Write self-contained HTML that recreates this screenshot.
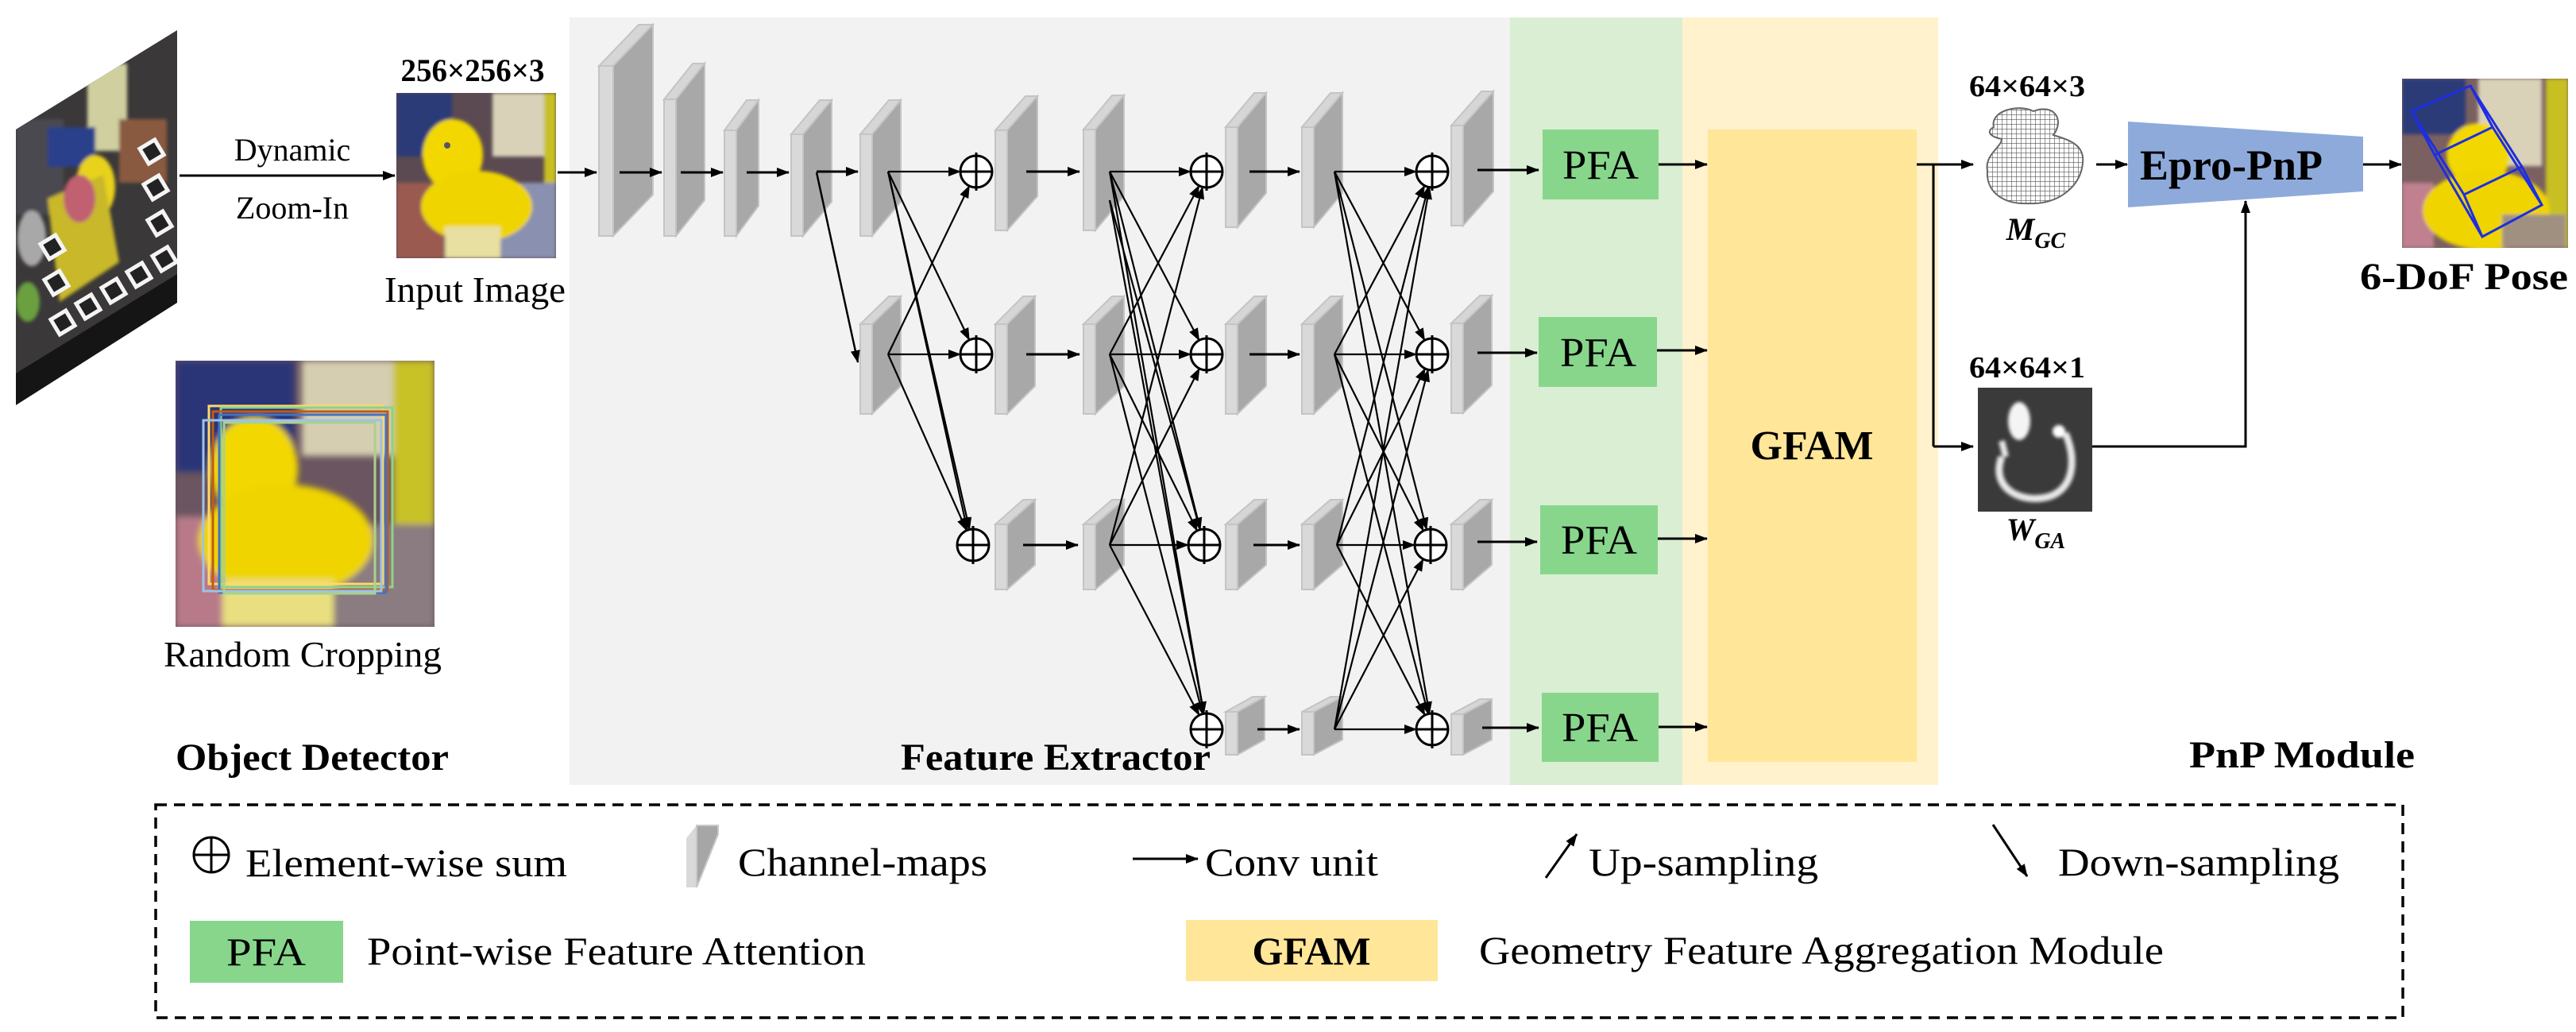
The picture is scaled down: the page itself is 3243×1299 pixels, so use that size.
<!DOCTYPE html>
<html><head><meta charset="utf-8">
<style>
html,body{margin:0;padding:0;background:#fff;}
svg{display:block;font-family:"Liberation Serif","DejaVu Serif",serif;}
svg text{font-family:"Liberation Serif","DejaVu Serif",serif !important;fill:#000;}
.b{font-weight:bold;}
</style></head>
<body>
<svg id="s" width="3243" height="1299" viewBox="0 0 3243 1299" xmlns="http://www.w3.org/2000/svg" font-family="Liberation Serif, DejaVu Serif, serif">
<defs>
<marker id="ah" markerUnits="userSpaceOnUse" markerWidth="16" markerHeight="12" refX="15" refY="6" orient="auto">
<path d="M0,0 L16,6 L0,12 z" fill="#000"/></marker>
<clipPath id="cpL"><polygon points="20,163 223,38 223,381 20,510"/></clipPath>
<clipPath id="cpIn"><rect x="499" y="117" width="201" height="208"/></clipPath>
<clipPath id="cpRc"><rect x="221" y="454" width="326" height="335"/></clipPath>
<clipPath id="cpP"><rect x="3024" y="99" width="209" height="213"/></clipPath>
<pattern id="mesh" width="6" height="6" patternUnits="userSpaceOnUse">
<rect width="6" height="6" fill="#fff"/><path d="M0,0 L6,0 M0,0 L0,6" stroke="#555" stroke-width="1.2"/></pattern>
<filter id="bl"><feGaussianBlur stdDeviation="4"/></filter>
<filter id="bl2"><feGaussianBlur stdDeviation="2"/></filter>
</defs>

<rect x="717" y="22" width="1184" height="966" fill="#f2f2f2"/>
<rect x="1901" y="22" width="217" height="966" fill="#d9eed2"/>
<rect x="2118" y="22" width="322" height="966" fill="#fff2cc"/>
<rect x="2150" y="163" width="263" height="796" fill="#ffe699"/>
<text x="2281" y="578" font-size="52" class="b" text-anchor="middle">GFAM</text>

<g clip-path="url(#cpL)">
<rect x="0" y="30" width="230" height="490" fill="#3a3838"/>
<g filter="url(#bl2)">
<rect x="20" y="150" width="60" height="120" fill="#4a4a50"/>
<rect x="110" y="80" width="50" height="110" fill="#cfcfa0"/>
<rect x="60" y="160" width="60" height="50" fill="#2a3f8a"/>
<ellipse cx="120" cy="235" rx="25" ry="40" fill="#e9d21a"/>
<polygon points="60,250 130,220 150,330 75,380" fill="#c9b82a"/>
<ellipse cx="100" cy="250" rx="20" ry="30" fill="#c06070"/>
<rect x="150" y="150" width="60" height="80" fill="#8a5a40"/>
<ellipse cx="40" cy="300" rx="18" ry="35" fill="#a8a8a8"/>
<ellipse cx="35" cy="380" rx="15" ry="25" fill="#6aa040"/>
</g>
<g stroke="#f4f4f4" stroke-width="5" fill="#222">
<rect x="68" y="395" width="22" height="22" transform="rotate(-31 79 406)"/>
<rect x="100" y="375" width="22" height="22" transform="rotate(-31 111 386)"/>
<rect x="132" y="355" width="22" height="22" transform="rotate(-31 143 366)"/>
<rect x="164" y="335" width="22" height="22" transform="rotate(-31 175 346)"/>
<rect x="196" y="315" width="22" height="22" transform="rotate(-31 207 326)"/>
<rect x="190" y="270" width="22" height="22" transform="rotate(-31 201 281)"/>
<rect x="185" y="225" width="22" height="22" transform="rotate(-31 196 236)"/>
<rect x="180" y="180" width="22" height="22" transform="rotate(-31 191 191)"/>
<rect x="60" y="345" width="22" height="22" transform="rotate(-31 71 356)"/>
<rect x="55" y="300" width="22" height="22" transform="rotate(-31 66 311)"/>
</g>
<polygon points="20,470 223,345 223,381 20,510" fill="#151515"/>
</g>

<line x1="226" y1="221" x2="497" y2="221" stroke="#000" stroke-width="3" marker-end="url(#ah)"/>
<text x="368" y="202" font-size="40" text-anchor="middle">Dynamic</text>
<text x="368" y="275" font-size="40" text-anchor="middle">Zoom-In</text>

<text x="595" y="102" font-size="40" class="b" text-anchor="middle" textLength="181" lengthAdjust="spacingAndGlyphs">256×256×3</text>
<g clip-path="url(#cpIn)">
<rect x="499" y="117" width="201" height="208" fill="#5b4a52"/>
<g filter="url(#bl2)">
<rect x="499" y="117" width="70" height="80" fill="#2c3a78"/>
<rect x="620" y="117" width="70" height="80" fill="#d9d2b8"/>
<rect x="685" y="117" width="15" height="208" fill="#c8c020"/>
<rect x="600" y="230" width="100" height="95" fill="#8a90b0"/>
<rect x="499" y="230" width="60" height="95" fill="#9a5a50"/>
<ellipse cx="570" cy="195" rx="38" ry="45" fill="#f2d800"/>
<ellipse cx="600" cy="260" rx="70" ry="45" fill="#efd400"/>
<rect x="560" y="285" width="70" height="40" fill="#e8e0a0"/>
</g>
<circle cx="563" cy="183" r="4" fill="#556"/>
</g>
<text x="598" y="380" font-size="46" text-anchor="middle" textLength="228" lengthAdjust="spacingAndGlyphs">Input Image</text>

<g clip-path="url(#cpRc)">
<rect x="221" y="454" width="326" height="335" fill="#6b5560"/>
<g filter="url(#bl)">
<rect x="221" y="454" width="150" height="140" fill="#2a3578"/>
<rect x="380" y="454" width="120" height="120" fill="#d6ceb0"/>
<rect x="495" y="454" width="52" height="335" fill="#c8c228"/>
<rect x="221" y="650" width="60" height="139" fill="#b87a88"/>
<rect x="420" y="660" width="127" height="129" fill="#8a7c80"/>
<ellipse cx="320" cy="590" rx="55" ry="65" fill="#f2d800"/>
<ellipse cx="360" cy="680" rx="110" ry="70" fill="#efd400"/>
<rect x="280" y="730" width="140" height="59" fill="#e9df80"/>
</g>
<g fill="none" stroke-width="3">
<rect x="263" y="511" width="219" height="224" stroke="#ffd966"/>
<rect x="278" y="513" width="216" height="226" stroke="#8fd18a"/>
<rect x="268" y="518" width="220" height="225" stroke="#c55a11"/>
<rect x="276" y="522" width="210" height="224" stroke="#4472c4"/>
<rect x="256" y="529" width="224" height="215" stroke="#9dc3e6"/>
<rect x="282" y="532" width="190" height="215" stroke="#a9d18e"/>
</g>
</g>
<text x="381" y="839" font-size="46" text-anchor="middle" textLength="350" lengthAdjust="spacingAndGlyphs">Random Cropping</text>
<text x="393" y="969" font-size="48" class="b" text-anchor="middle" textLength="344" lengthAdjust="spacingAndGlyphs">Object Detector</text>
<text x="1329" y="969" font-size="48" class="b" text-anchor="middle" textLength="390" lengthAdjust="spacingAndGlyphs">Feature Extractor</text>
<text x="2898" y="966" font-size="48" class="b" text-anchor="middle" textLength="284" lengthAdjust="spacingAndGlyphs">PnP Module</text>

<g id="net"></g>

<g fill="#88d68c">
<rect x="1942" y="163" width="146" height="88"/>
<rect x="1937" y="399" width="149" height="88"/>
<rect x="1939" y="636" width="148" height="87"/>
<rect x="1941" y="872" width="147" height="87"/>
</g>
<g font-size="52" text-anchor="middle">
<text x="2015" y="225" textLength="96" lengthAdjust="spacingAndGlyphs">PFA</text>
<text x="2012" y="461" textLength="96" lengthAdjust="spacingAndGlyphs">PFA</text>
<text x="2013" y="697" textLength="96" lengthAdjust="spacingAndGlyphs">PFA</text>
<text x="2014" y="933" textLength="96" lengthAdjust="spacingAndGlyphs">PFA</text>
</g>

<g stroke="#000" stroke-width="3" fill="none">
<polyline points="2413,207 2434,207 2434,562"/>
<line x1="2434" y1="207" x2="2484" y2="207" marker-end="url(#ah)"/>
<line x1="2434" y1="562" x2="2484" y2="562" marker-end="url(#ah)"/>
<line x1="2639" y1="207" x2="2678" y2="207" marker-end="url(#ah)"/>
<line x1="2975" y1="207" x2="3023" y2="207" marker-end="url(#ah)"/>
<polyline points="2634,562 2827,562 2827,253" marker-end="url(#ah)"/>
</g>
<text x="2552" y="121" font-size="38" class="b" text-anchor="middle" textLength="146" lengthAdjust="spacingAndGlyphs">64×64×3</text>
<path d="M2510,160 C2505,140 2540,130 2560,140 C2585,130 2600,150 2585,170 C2600,175 2625,180 2622,205 C2620,235 2590,258 2555,256 C2520,258 2500,240 2502,215 C2498,195 2520,185 2520,175 C2505,172 2500,165 2510,160 Z" fill="url(#mesh)" stroke="#666" stroke-width="2"/>
<text x="2563" y="302" font-size="40" class="b" font-style="italic" text-anchor="middle">M<tspan font-size="28" dy="10">GC</tspan></text>
<polygon points="2679,153 2975,172 2975,241 2679,261" fill="#8eaadb"/>
<text x="2809" y="226" font-size="54" class="b" text-anchor="middle" textLength="230" lengthAdjust="spacingAndGlyphs">Epro-PnP</text>

<text x="2552" y="475" font-size="38" class="b" text-anchor="middle" textLength="146" lengthAdjust="spacingAndGlyphs">64×64×1</text>
<rect x="2490" y="488" width="144" height="156" fill="#3a3a3a"/>
<g filter="url(#bl2)" fill="none" stroke="#e8e8e8">
<path d="M2520,575 C2505,615 2545,635 2580,625 C2610,615 2615,580 2600,545" stroke-width="9"/>
<ellipse cx="2542" cy="530" rx="14" ry="24" fill="#f4f4f4" stroke="none"/>
<circle cx="2592" cy="543" r="8" fill="#fff" stroke="none"/>
<path d="M2520,555 L2525,575" stroke-width="8"/>
</g>
<text x="2563" y="680" font-size="40" class="b" font-style="italic" text-anchor="middle">W<tspan font-size="28" dy="10">GA</tspan></text>

<g clip-path="url(#cpP)">
<rect x="3024" y="99" width="209" height="213" fill="#7a6060"/>
<g filter="url(#bl2)">
<rect x="3024" y="99" width="80" height="70" fill="#2c3a78"/>
<rect x="3120" y="99" width="80" height="110" fill="#d9d2b8"/>
<rect x="3205" y="99" width="28" height="213" fill="#c8c020"/>
<rect x="3024" y="230" width="40" height="82" fill="#c08090"/>
<ellipse cx="3120" cy="195" rx="40" ry="40" fill="#f2d800"/>
<ellipse cx="3130" cy="265" rx="80" ry="50" fill="#efd400"/>
<rect x="3150" y="270" width="80" height="42" fill="#a09080"/>
</g>
<g fill="none" stroke="#1e2ee0" stroke-width="3">
<polygon points="3036,140 3110,108 3175,210 3102,245"/>
<polygon points="3065,195 3138,160 3200,258 3125,298"/>
<line x1="3036" y1="140" x2="3065" y2="195"/><line x1="3110" y1="108" x2="3138" y2="160"/>
<line x1="3175" y1="210" x2="3200" y2="258"/><line x1="3102" y1="245" x2="3125" y2="298"/>
</g>
</g>
<text x="3102" y="364" font-size="48" class="b" text-anchor="middle" textLength="262" lengthAdjust="spacingAndGlyphs">6-DoF Pose</text>

<rect x="196" y="1013" width="2829" height="268" fill="none" stroke="#000" stroke-width="3.5" stroke-dasharray="14,9"/>
<g stroke="#000" stroke-width="3" fill="none">
<circle cx="266" cy="1076" r="22"/>
<line x1="244" y1="1076" x2="288" y2="1076"/><line x1="266" y1="1054" x2="266" y2="1098"/>
<line x1="1426" y1="1081" x2="1508" y2="1081" marker-end="url(#ah)"/>
<line x1="1946" y1="1105" x2="1985" y2="1050" marker-end="url(#ah)"/>
<line x1="2509" y1="1038" x2="2552" y2="1103" marker-end="url(#ah)"/>
</g>
<polygon points="864,1055 877,1039 877,1117 864,1117" fill="#d9d9d9"/>
<polygon points="877,1039 904,1039 904,1050 877,1117" fill="#a6a6a6" stroke="#c8c8c8" stroke-width="2"/>
<g font-size="50">
<text x="309" y="1103" textLength="405" lengthAdjust="spacingAndGlyphs">Element-wise sum</text>
<text x="929" y="1102" textLength="314" lengthAdjust="spacingAndGlyphs">Channel-maps</text>
<text x="1517" y="1102" textLength="218" lengthAdjust="spacingAndGlyphs">Conv unit</text>
<text x="2000" y="1102" textLength="289" lengthAdjust="spacingAndGlyphs">Up-sampling</text>
<text x="2591" y="1102" textLength="354" lengthAdjust="spacingAndGlyphs">Down-sampling</text>
<text x="462" y="1214" textLength="628" lengthAdjust="spacingAndGlyphs">Point-wise Feature Attention</text>
<text x="1862" y="1213" textLength="862" lengthAdjust="spacingAndGlyphs">Geometry Feature Aggregation Module</text>
</g>
<rect x="239" y="1159" width="193" height="78" fill="#88d68c"/>
<text x="335" y="1215" font-size="50" text-anchor="middle" textLength="100" lengthAdjust="spacingAndGlyphs">PFA</text>
<rect x="1493" y="1158" width="317" height="77" fill="#ffe699"/>
<text x="1651" y="1214" font-size="50" class="b" text-anchor="middle">GFAM</text>
</svg>
<script>
(function(){
var NS="http://www.w3.org/2000/svg",g=document.getElementById("net");
function el(t,a){var e=document.createElementNS(NS,t);for(var k in a)e.setAttribute(k,a[k]);g.appendChild(e);return e;}
function slab(x0,x1,y0,y1,dy,s){s=s||15;
 el("polygon",{points:[x0,y0+dy,x1-s,y0,x1,y0,x0+s,y0+dy].join(","),fill:"#d6d6d6",stroke:"#c4c4c4","stroke-width":2});
 el("polygon",{points:[x0+s,y0+dy,x1,y0,x1,y1-dy,x0+s,y1].join(","),fill:"#a8a8a8",stroke:"#c4c4c4","stroke-width":2});
 el("rect",{x:x0,y:y0+dy,width:s,height:y1-y0-dy,fill:"#d9d9d9",stroke:"#c4c4c4","stroke-width":2});}
var S=[[754,822,31,297,52,18],[836,887,80,297,45],[912,955,126,297,38],[996,1047,126,297,43],[1083,1134,126,297,43],[1253,1306,121,290,43],[1364,1415,120,290,43],[1543,1594,117,286,43],[1639,1690,117,286,43],[1827,1880,115,284,43],
[1083,1134,373,521,35],[1253,1303,373,521,35],[1364,1415,373,521,35],[1543,1594,373,521,35],[1639,1690,373,521,35],[1827,1878,372,520,35],
[1253,1303,629,742,31],[1364,1415,629,742,31],[1543,1594,629,742,31],[1639,1690,629,742,31],[1827,1878,629,742,31],
[1543,1592,877,950,19],[1639,1690,877,950,19],[1827,1878,880,950,19]];
S.forEach(function(a){slab(a[0],a[1],a[2],a[3],a[4],a[5]);});
function arr(x1,y1,x2,y2,w){el("line",{x1:x1,y1:y1,x2:x2,y2:y2,stroke:"#000","stroke-width":w||2.5,"marker-end":"url(#ah)"});}
var H=[[702,751,217],[780,833,217],[857,910,217],[940,993,217],[1028,1080,216],[1292,1359,216],[1573,1636,216],[1860,1937,214],[2088,2149,207],
[1292,1359,446],[1573,1636,446],[1860,1935,444],[2086,2149,441],
[1288,1357,686],[1578,1636,686],[1860,1935,682],[2087,2149,678],
[1583,1636,918],[1866,1937,916],[2088,2149,915]];
H.forEach(function(h){arr(h[0],h[2],h[1],h[2],3);});
arr(1028,217,1080,456,2.5);
var R=20;
function conn(ox,oy,cx,cy){var dx=cx-ox,dy=cy-oy,L=Math.sqrt(dx*dx+dy*dy);arr(ox,oy,cx-dx/L*R,cy-dy/L*R,2.2);}
var c1=[[1229,216],[1229,446],[1225,686]],c2=[[1519,216],[1519,446],[1516,686],[1519,918]],c3=[[1803,216],[1803,446],[1801,686],[1803,918]];
[[1118,216],[1118,446]].forEach(function(o){c1.forEach(function(c){conn(o[0],o[1],c[0],c[1]);});});
conn(1118,216,1222,686);
[[1397,216],[1397,446],[1397,686]].forEach(function(o){c2.forEach(function(c){conn(o[0],o[1],c[0],c[1]);});});
conn(1397,252,1516,686);conn(1397,252,1519,918);
[[1680,216],[1680,446],[1683,686],[1680,918]].forEach(function(o){c3.forEach(function(c){conn(o[0],o[1],c[0],c[1]);});});
c1.concat(c2,c3).forEach(function(c){
 el("circle",{cx:c[0],cy:c[1],r:R,fill:"#fff",stroke:"#000","stroke-width":3});
 el("line",{x1:c[0]-R,y1:c[1],x2:c[0]+R,y2:c[1],stroke:"#000","stroke-width":3});
 el("line",{x1:c[0],y1:c[1]-R-4,x2:c[0],y2:c[1]+R+4,stroke:"#000","stroke-width":3});
});
})();
</script>
</body></html>
